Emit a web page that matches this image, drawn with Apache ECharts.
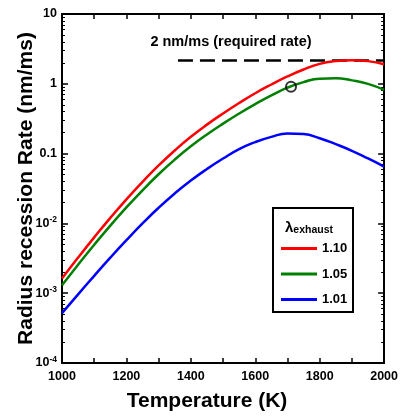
<!DOCTYPE html>
<html><head><meta charset="utf-8">
<script src="https://cdn.jsdelivr.net/npm/echarts@6/dist/echarts.min.js"></script>
<style>html,body{margin:0;padding:0;background:#fff}#c{width:401px;height:417px}</style>
</head><body><div id="c"></div>
<script>
const temps = [1000,1050,1100,1150,1200,1250,1300,1350,1400,1450,1500,1550,1600,1650,1700,1750,1800,1850,1900,1950,2000];
const rate110 = [1.622e-3,3.236e-3,6.310e-3,0.01202,0.02213,0.03936,0.06761,0.1109,0.1738,0.2600,0.3758,0.5309,0.7328,0.9772,1.274,1.603,1.928,2.113,2.173,2.113,1.905];
const rate105 = [1.300e-3,2.564e-3,4.943e-3,9.31e-3,0.01694,0.02979,0.05058,0.08204,0.1271,0.1879,0.2685,0.3750,0.5117,0.6823,0.8790,1.057,1.186,1.199,1.119,0.9977,0.8204];
const rate101 = [5.176e-4,9.638e-4,1.774e-3,3.228e-3,5.741e-3,9.977e-3,0.01675,0.02685,0.04111,0.06012,0.08492,0.1159,0.1462,0.1738,0.1941,0.1905,0.1660,0.1365,0.1096,0.0851,0.0653];
const seriesNames = ['1.10','1.05','1.01'];
const requiredRate = 2.15;
const requiredStart = 1360;
const requiredLabel = '2 nm/ms (required rate)';
const markerPoint = [1711, 0.91];

const minorVals = [];
for (let e = -4; e < 1; e++) for (let k = 2; k <= 9; k++) minorVals.push(+(k*Math.pow(10,e)).toPrecision(3));

const FONT = 'Liberation Sans, Arial, sans-serif';
const chart = echarts.init(document.getElementById('c'), null, {renderer:'canvas'});
const pair = (ys) => temps.map((t,i)=>[t, ys[i]]);
const yLabelFmt = (v) => {
  const e = Math.round(Math.log10(v));
  if (e === 1) return '10';
  if (e === 0) return '1';
  if (e === -1) return '0.1';
  return '{b|10}{s|' + e + '}';
};
const baseY = {
  type:'log', min:1e-4, max:10, logBase:10,
  splitLine:{show:false}, minorSplitLine:{show:false}
};
const baseX = {type:'value', min:1000, max:2000, interval:100, splitLine:{show:false}};
const lineStyleAxis = {lineStyle:{color:'#000', width:2}};

chart.setOption({
  animation:false,
  grid:{left:62, right:16, top:14, bottom:53},
  xAxis:[
    Object.assign({}, baseX, {position:'bottom',
      axisLine:lineStyleAxis,
      axisTick:{inside:true, length:5, lineStyle:{color:'#000', width:1.5}},
      axisLabel:{color:'#000', fontFamily:FONT, fontWeight:'bold', fontSize:12.5, margin:7,
        formatter:(v)=> (v % 200 === 0 ? String(v) : '')},
      name:'Temperature (K)', nameLocation:'middle', nameGap:28, nameMoveOverlap:false,
      nameTextStyle:{color:'#000', fontFamily:FONT, fontWeight:'bold', fontSize:21, padding:[0,32,0,0]}}),
    Object.assign({}, baseX, {position:'top',
      axisLine:lineStyleAxis,
      axisTick:{inside:true, length:5, lineStyle:{color:'#000', width:1.5}},
      axisLabel:{show:false}})
  ],
  yAxis:[
    Object.assign({}, baseY, {position:'left',
      axisLine:lineStyleAxis,
      axisTick:{inside:true, length:6, lineStyle:{color:'#000', width:1.5}},
      axisLabel:{color:'#000', fontFamily:FONT, fontWeight:'bold', fontSize:12.5, margin:5,
        formatter:yLabelFmt,
        rich:{b:{fontFamily:FONT, fontWeight:'bold', fontSize:12.5, color:'#000'},
              s:{fontFamily:FONT, fontWeight:'bold', fontSize:8.5, color:'#000', padding:[0,0,7,0]}}},
      name:'Radius recession Rate (nm/ms)', nameLocation:'middle', nameGap:25, nameMoveOverlap:false,
      nameTextStyle:{color:'#000', fontFamily:FONT, fontWeight:'bold', fontSize:21}}),
    Object.assign({}, baseY, {position:'left',
      axisLine:{show:false},
      axisTick:{inside:true, length:3, customValues:minorVals, lineStyle:{color:'#000', width:1}},
      axisLabel:{show:false}}),
    Object.assign({}, baseY, {position:'right',
      axisLine:lineStyleAxis,
      axisTick:{inside:true, length:6, lineStyle:{color:'#000', width:1.5}},
      axisLabel:{show:false}}),
    Object.assign({}, baseY, {position:'right',
      axisLine:{show:false},
      axisTick:{inside:true, length:3, customValues:minorVals, lineStyle:{color:'#000', width:1}},
      axisLabel:{show:false}})
  ],
  legend:{
    orient:'vertical', left:281, top:242, itemWidth:36, itemHeight:3, itemGap:12.5, padding:0,
    icon:'rect', data:seriesNames,
    textStyle:{color:'#000', fontFamily:FONT, fontWeight:'bold', fontSize:13}
  },
  graphic:[
    {type:'rect', left:272, top:207, shape:{width:80, height:104},
     style:{fill:'#fff', stroke:'#000', lineWidth:2}, z:0},
    {type:'text', left:285, top:220, z:10,
     style:{text:'{l|λ}{e|exhaust}', rich:{
       l:{fontFamily:FONT, fontWeight:'bold', fontSize:15, fill:'#000'},
       e:{fontFamily:FONT, fontWeight:'bold', fontSize:10.5, fill:'#000', padding:[5,0,0,0]}}}}
  ],
  series:[
    {name:seriesNames[0], type:'line', data:pair(rate110), smooth:true, showSymbol:false, symbol:'none',
     lineStyle:{color:'#ff0000', width:2.5}, itemStyle:{color:'#ff0000'}},
    {name:seriesNames[1], type:'line', data:pair(rate105), smooth:true, showSymbol:false, symbol:'none',
     lineStyle:{color:'#008000', width:2.5}, itemStyle:{color:'#008000'}},
    {name:seriesNames[2], type:'line', data:pair(rate101), smooth:true, showSymbol:false, symbol:'none',
     lineStyle:{color:'#0000ff', width:2.5}, itemStyle:{color:'#0000ff'}},
    {name:'required', type:'line', data:[[requiredStart, requiredRate],[2000, requiredRate]],
     showSymbol:false, symbol:'none', lineStyle:{color:'#000', width:2.5, type:[15,7]}, z:1},
    {name:'marker', type:'scatter', data:[markerPoint], symbol:'circle', symbolSize:10,
     itemStyle:{color:'rgba(0,0,0,0)', borderColor:'#000', borderWidth:2}, z:5}
  ]
});
const px = chart.convertToPixel({xAxisIndex:0, yAxisIndex:0}, [requiredStart, requiredRate]);
chart.setOption({graphic:[{}, {}, {type:'text', x:231, y:px[1]-19, z:10,
  style:{text:requiredLabel, fontFamily:FONT, fontWeight:'bold', fontSize:14.5, fill:'#000', align:'center', verticalAlign:'middle'}}]});
</script></body></html>
